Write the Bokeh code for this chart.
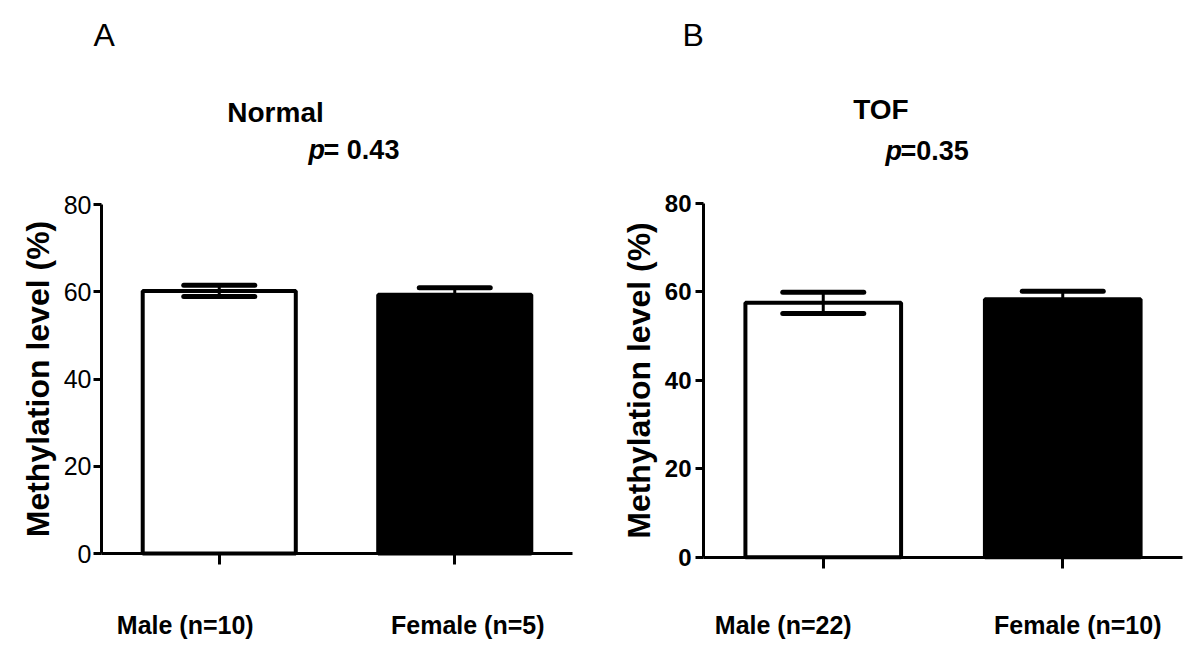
from bokeh.plotting import figure
from bokeh.models import (Range1d, Whisker, TeeHead, ColumnDataSource,
                          Label, FixedTicker, LinearAxis)
from bokeh.layouts import row
from bokeh.embed import file_html
from bokeh.resources import INLINE

# ---- data ----
cats_A = ["Male (n=10)", "Female (n=5)"]
means_A = [60.2, 59.3]
sems_A = [1.3, 1.6]

cats_B = ["Male (n=22)", "Female (n=10)"]
means_B = [57.5, 58.3]
sems_B = [2.4, 1.8]

bar_fill = ["white", "black"]
y_ticks = [0, 20, 40, 60, 80]
y_max = 80

panel_letters = ["A", "B"]
titles = ["Normal", "TOF"]
p_values = ["= 0.43", "=0.35"]
y_label = "Methylation level (%)"

FONT = "Liberation Sans"
W, H = 600, 671


def make_panel(cats, means, sems, frame_px, tick_bold, tick_size, cat_offsets,
               letter, letter_pos, title, title_pos, pval, p_pos, eq_x,
               cat_y, head_size, tick_standoff):
    # frame_px: (x pixel of range start, pixels per category,
    #            y pixel of value 0, pixels per y unit)
    x0, ppx, y0, ppy = frame_px
    n = len(cats)
    xr = Range1d(-x0 / ppx, (W - x0) / ppx)
    yr = Range1d((y0 - H) / ppy, y0 / ppy)
    p = figure(x_range=xr, y_range=yr, width=W, height=H,
               output_backend="svg", toolbar_location=None, min_border=0,
               x_axis_location=None, y_axis_location=None)
    p.grid.visible = False
    p.outline_line_color = None
    p.background_fill_color = "white"
    p.border_fill_color = "white"

    xs = [i + 0.5 for i in range(n)]
    lower = [m - s for m, s in zip(means, sems)]
    upper = [m + s for m, s in zip(means, sems)]
    src = ColumnDataSource(dict(x=xs, top=means, fill=bar_fill,
                                lower=lower, upper=upper))
    p.vbar(x="x", top="top", width=0.65, bottom=0, source=src,
           fill_color="fill", line_color="black", line_width=4)
    w = Whisker(base="x", lower="lower", upper="upper", source=src,
                dimension="height", line_color="black", line_width=3,
                level="overlay",
                upper_head=TeeHead(size=head_size, line_width=5,
                                   line_color="black", line_cap="round"),
                lower_head=TeeHead(size=head_size, line_width=5,
                                   line_color="black", line_cap="round"))
    p.add_layout(w)

    # y axis
    ya = LinearAxis(fixed_location=0, bounds=(0, y_max),
                    ticker=FixedTicker(ticks=y_ticks))
    ya.minor_tick_line_color = None
    ya.major_tick_in = 0
    ya.major_tick_out = 8
    ya.major_tick_line_width = 3
    ya.axis_line_width = 3
    ya.major_label_text_font = FONT
    ya.major_label_text_font_size = tick_size
    ya.major_label_text_font_style = "bold" if tick_bold else "normal"
    ya.major_label_text_color = "black"
    ya.major_label_standoff = tick_standoff
    ya.axis_label = y_label
    ya.axis_label_text_font = FONT
    ya.axis_label_text_font_size = "32px"
    ya.axis_label_text_font_style = "bold"
    ya.axis_label_text_color = "black"
    ya.axis_label_standoff = 5
    p.add_layout(ya, "left")

    # x axis
    xa = LinearAxis(fixed_location=0, bounds=(0, n),
                    ticker=FixedTicker(ticks=xs))
    xa.minor_tick_line_color = None
    xa.major_tick_in = 0
    xa.major_tick_out = 11
    xa.major_tick_line_width = 3
    xa.axis_line_width = 3
    xa.major_label_text_color = None
    p.add_layout(xa, "below")

    # category labels
    for xc, c, off in zip(xs, cats, cat_offsets):
        p.add_layout(Label(x=xc, y=cat_y, x_offset=off, text=c,
                           text_align="center", text_baseline="alphabetic",
                           text_font=FONT, text_font_size="25px",
                           text_font_style="bold", text_color="black"))

    p.add_layout(Label(x=letter_pos[0], y=letter_pos[1], text=letter,
                       text_align="left", text_baseline="alphabetic",
                       text_font=FONT, text_font_size="32px",
                       text_color="black"))
    p.add_layout(Label(x=title_pos[0], y=title_pos[1], text=title,
                       text_align="center", text_baseline="alphabetic",
                       text_font=FONT, text_font_size="28px",
                       text_font_style="bold", text_color="black"))
    p.add_layout(Label(x=p_pos[0], y=p_pos[1], text="p",
                       text_align="left", text_baseline="alphabetic",
                       text_font=FONT, text_font_size="27px",
                       text_font_style="bold italic", text_color="black"))
    p.add_layout(Label(x=eq_x, y=p_pos[1], text=pval,
                       text_align="left", text_baseline="alphabetic",
                       text_font=FONT, text_font_size="27px",
                       text_font_style="bold", text_color="black"))
    return p


pA = make_panel(cats_A, means_A, sems_A, (101, 235.5, 553, 4.3625), False,
                "25px", [-34, 13], panel_letters[0], (-0.034, 118.95),
                titles[0], (0.739, 101.2), p_values[0], (0.879, 92.4), 0.943,
                -16.3, 71, 2)
pB = make_panel(cats_B, means_B, sems_B, (103, 239.5, 556.7, 4.425), True,
                "24px", [-40, 15], panel_letters[1], (-0.088, 118.1),
                titles[1], (0.741, 101.25), p_values[1], (0.76, 91.9), 0.8225,
                -15.4, 81, 4)

layout = row(pA, pB)
open("out.html", "w").write(file_html(layout, INLINE))
